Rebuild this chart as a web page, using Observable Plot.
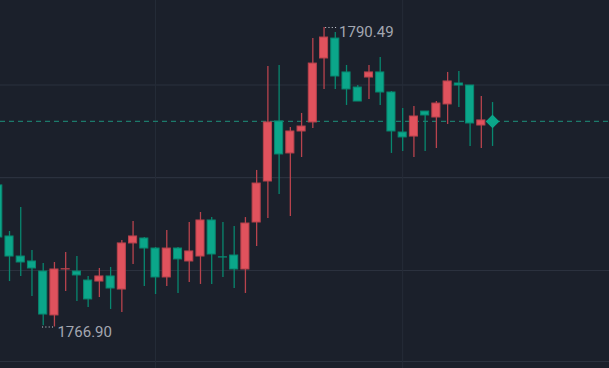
<!DOCTYPE html>
<html>
<head>
<meta charset="utf-8">
<script src="https://cdn.jsdelivr.net/npm/d3@7"></script>
<script src="https://cdn.jsdelivr.net/npm/@observablehq/plot@0.6"></script>
<style>
  html, body { margin: 0; padding: 0; background: #1b202b; overflow: hidden; }
  #chart svg { display: block; }
</style>
</head>
<body>
<div id="chart"></div>
<script>
// Candle data (index order), prices
const opens  = [1778.05,1774.03,1772.45,1772.06,1771.27,1767.81,1771.43,1771.27,1770.56,1770.48,
                1770.88,1769.85,1773.48,1773.87,1773.08,1770.80,1773.08,1772.06,1772.45,1775.29,
                1772.39,1772.53,1771.43,1775.13,1778.36,1783.09,1780.57,1782.30,1783.01,1788.05,
                1789.62,1786.95,1785.76,1786.55,1786.95,1785.37,1782.22,1781.90,1783.87,1783.40,
                1784.43,1786.08,1785.92,1782.77,1783.10];
const highs  = [1778.20,1774.42,1776.31,1772.92,1771.90,1771.98,1772.77,1772.45,1770.88,1771.51,
                1771.59,1773.71,1775.21,1773.95,1773.16,1774.50,1773.16,1775.13,1775.92,1775.52,
                1775.13,1774.82,1775.52,1779.23,1787.42,1787.50,1782.61,1783.72,1789.62,1790.49,
                1790.10,1787.50,1785.92,1787.50,1788.13,1785.45,1784.11,1784.27,1783.87,1784.66,
                1786.95,1787.02,1785.92,1785.06,1784.58];
const lows   = [1773.71,1770.48,1770.88,1769.30,1767.00,1766.90,1769.69,1768.91,1768.44,1769.22,
                1768.28,1768.04,1771.82,1770.09,1769.46,1770.09,1769.54,1770.40,1770.25,1770.25,
                1770.80,1769.93,1769.54,1773.24,1775.45,1777.34,1775.60,1780.25,1782.53,1785.61,
                1785.61,1784.35,1784.66,1784.82,1784.35,1780.57,1780.72,1780.25,1780.72,1780.96,
                1782.85,1784.19,1781.12,1780.96,1781.12];
const closes = [1773.95,1772.45,1771.98,1771.51,1767.88,1771.43,1771.45,1770.96,1769.07,1770.88,
                1769.93,1773.48,1774.03,1773.08,1770.80,1773.08,1772.22,1772.85,1775.29,1772.61,
                1772.37,1771.43,1775.05,1778.20,1783.01,1780.49,1782.30,1782.69,1787.65,1789.70,
                1786.63,1785.61,1784.66,1786.95,1785.37,1782.30,1781.83,1783.48,1783.56,1784.50,
                1786.24,1785.92,1782.93,1783.17,1783.09];

const lastPrice = 1783.09;
const gridPrices = [1785.96, 1778.67, 1771.35, 1764.18];
const gridIndices = [14, 36];
const maxLabel = "1790.49";
const minLabel = "1766.90";

const UP = "#e0525d", UP_LINE = "#b8434d";
const DOWN = "#0ba68a", DOWN_LINE = "#08876f";

const candles = opens.map((o, i) => ({
  i, open: o, high: highs[i], low: lows[i], close: closes[i], up: closes[i] >= o
}));
const maxC = candles.reduce((a, b) => b.high > a.high ? b : a);
const minC = candles.reduce((a, b) => b.low < a.low ? b : a);
const last = candles[candles.length - 1];

const half = 0.36;
const chart = Plot.plot({
  width: 609,
  height: 368,
  margin: 0,
  style: { background: "#1b202b" },
  x: { domain: [0.1985, 54.41], axis: null },
  y: { domain: [1763.63, 1792.617], axis: null },
  marks: [
    Plot.ruleY(gridPrices, { stroke: "#2b313e", strokeWidth: 1.2 }),
    Plot.ruleX(gridIndices, { stroke: "#262c38", strokeWidth: 1 }),
    Plot.ruleY([lastPrice], { stroke: "#1c7a6b", strokeWidth: 1.2, strokeDasharray: "5,4" }),
    Plot.ruleX(candles, {
      x: "i", y1: "low", y2: "high",
      stroke: d => d.up ? UP_LINE : DOWN_LINE, strokeWidth: 1.3
    }),
    Plot.rect(candles, {
      x1: d => d.i - half, x2: d => d.i + half,
      y1: "open", y2: "close",
      fill: d => d.up ? UP : DOWN,
      stroke: d => d.up ? UP_LINE : DOWN_LINE, strokeWidth: 1
    }),
    Plot.dot([last], {
      x: "i", y: "close", symbol: "diamond2", r: 5.2, fill: DOWN, stroke: DOWN
    }),
    Plot.link([maxC], {
      x1: d => d.i + 0.1, x2: d => d.i + 1.15, y1: "high", y2: "high",
      stroke: "#d0d4dc", strokeWidth: 1.2, strokeDasharray: "1,2.3"
    }),
    Plot.link([minC], {
      x1: d => d.i - 1.1, x2: d => d.i - 0.1, y1: "low", y2: "low",
      stroke: "#d0d4dc", strokeWidth: 1.2, strokeDasharray: "1,2.3"
    }),
    Plot.text([maxC], {
      x: "i", y: "high", text: () => maxLabel, textAnchor: "start",
      dx: 15, dy: 5, fill: "#a3a7b1", fontSize: 15, fontFamily: "Roboto"
    }),
    Plot.text([minC], {
      x: "i", y: "low", text: () => minLabel, textAnchor: "start",
      dx: 3, dy: 5, fill: "#a3a7b1", fontSize: 15, fontFamily: "Roboto"
    })
  ]
});
document.getElementById("chart").appendChild(chart);
</script>
</body>
</html>
